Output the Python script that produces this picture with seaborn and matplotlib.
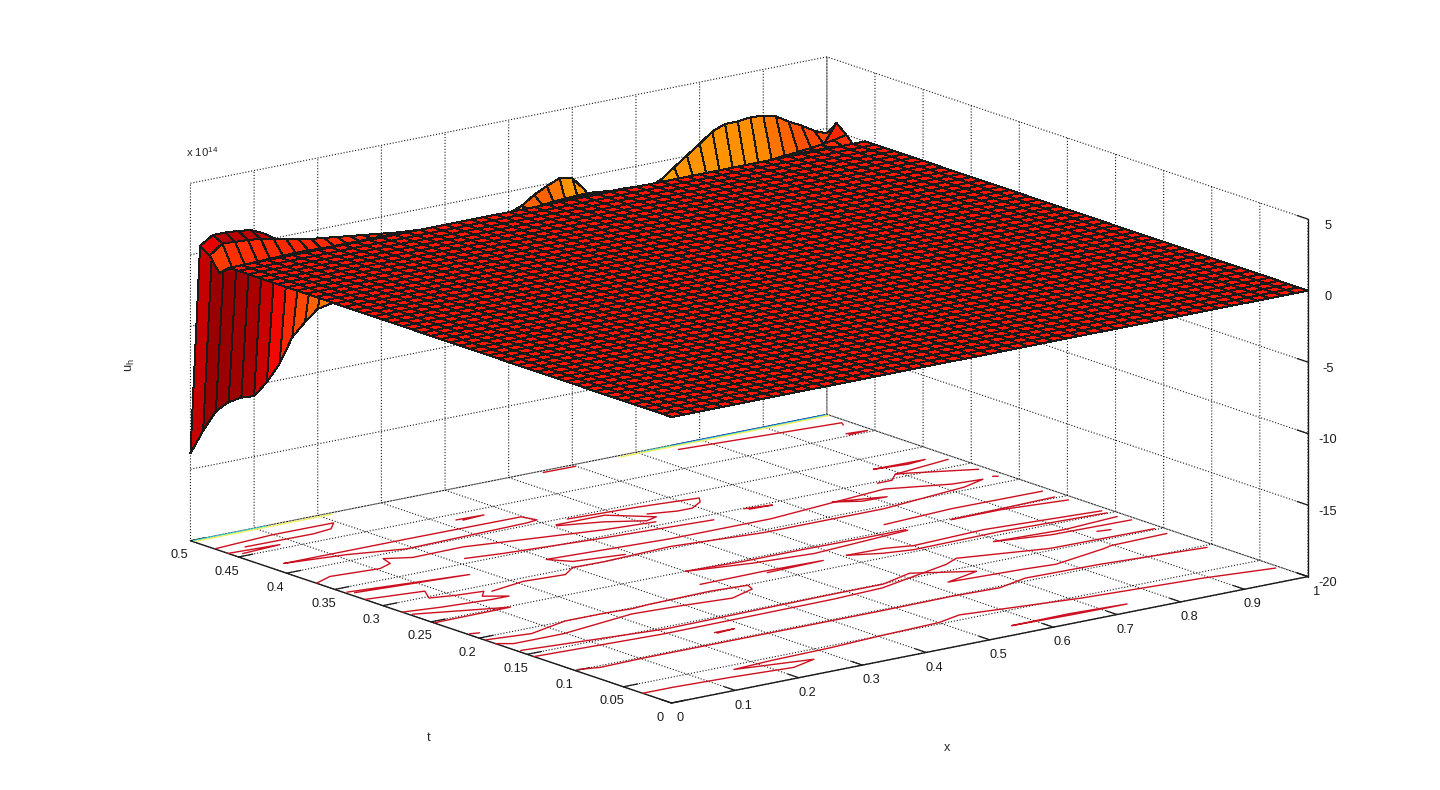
import numpy as np
import matplotlib
matplotlib.use("Agg")
import matplotlib.pyplot as plt
from matplotlib.colors import Normalize
from mpl_toolkits.mplot3d import proj3d
import seaborn as sns

# ---------- data ----------
x_grid = np.linspace(0, 1, 51)
t_grid = np.linspace(0, 0.5, 51)
x_ticks = [0, .1, .2, .3, .4, .5, .6, .7, .8, .9, 1]
x_labels = ['0', '0.1', '0.2', '0.3', '0.4', '0.5', '0.6', '0.7', '0.8', '0.9', '1']
t_ticks = [0, .05, .1, .15, .2, .25, .3, .35, .4, .45, .5]
t_labels = ['0', '0.05', '0.1', '0.15', '0.2', '0.25', '0.3', '0.35', '0.4', '0.45', '0.5']
z_ticks = [-20, -15, -10, -5, 0, 5]
z_labels = ['-20', '-15', '-10', '-5', '0', '5']

# surface heights (units of 1e14) in the rows next to t = 0.5; the rest is flat at 0
z_t050 = [-13.9, -12.47, -11.3, -10.83, -10.7, -10.77, -9.97, -8.86, -7.18, -6.3, -5.55, -5.38,
          -5, -4.6, -4.2, -3.8, -3.4, -3, -2.8, -2.6, -2.4, -2.2, -2, -1.9, -1.8, -1.5,
          -1.2, -.58, -.15, .23, .05, -.96, -2.5, -3, -3, -2.5,
          -1.64, -1.26, -.6, .05, .68, 1.37, 1.72, 1.72, 1.83, 1.78, 1.55, 1, .55, .01, -.35]
z_t049 = [.85, 1.43, 1.43, 1.36, 1.25, .83, .26, -.3, -.8, -1.2, -1.6, -1.8,
          -1.8, -1.8, -1.8, -1.8, -1.8, -1.8, -1.8, -1.8, -1.8, -1.8, -1.8, -1.8, -1.8, -1.8,
          -1.2, -1.2, -1.5, -2.1, -2.1, -3.2, -3.5, -3, -2.5, -2.2,
          -2.2, -2.2, -2.1, -2.1, -2.1, -2.1, -2, -2, -1.9, -1.5, -1.3, -.95, -.8, -.71, .6]
z_t048 = [.4, 1.07, 1, .96, .85, .69, .5, .3, .15, .04, -.07, -.18, -.29, -.4, -.51, -.62, -.73,
          -.85, -.85, -.85, -.85, -.85, -.85, -.85, -.85, -.85,
          -.7, -.6, -.55, -.5, -.5, -.6, -.8,
          -.85, -.85, -.85, -.85, -.85, -.85, -.85, -.85, -.85, -.85, -.8,
          -.7, -.62, -.55, -.45, -.35, -.2, 0]
z_t047 = [-.6, -.4, -.38, -.32, -.31, -.26, -.25, -.25, -.3, -.3, -.3, -.3, -.3, -.3, -.3, -.3,
          -.4, -.4, -.4, -.4, -.4, -.4, -.4, -.4, -.4, -.4,
          -.3, -.3, -.3, -.3, -.3, -.3, -.3,
          -.4, -.4, -.4, -.4, -.4, -.4, -.4, -.4, -.4, -.4, -.4,
          -.35, -.3, -.3, -.3, -.3, -.4, -.7]

# floor contour lines, each a list of (x, t)
contour_blue = [[(.756, .4995), (.995, .4995)]]
contour_cyan = [[(.003, .499), (.118, .499)], [(.707, .4985), (.998, .4985)]]
contour_yellow = [[(.003, .497), (.218, .497)], [(.67, .497), (.998, .497)]]
contour_red = [
    [(.75, .489), (.99, .478), (.985, .473)],
    [(.002, .475), (.099, .48), (.194, .4795), (.174, .469), (.142, .466), (.036, .467)],
    [(0, .461), (.077, .458), (.014, .455)],
    [(.3235, .438), (.366, .437), (.33, .435)],
    [(.026, .42), (.219, .42), (.397, .419), (.404, .407), (.385, .405), (.19, .401), (.113, .413), (.026, .42)],
    [(0, .369), (.033, .377), (.106, .373), (.131, .379), (.138, .391), (.171, .382), (.252, .383),
     (.3325, .374), (.441, .362), (.516, .3575)],
    [(.004, .34), (.177, .327), (.01, .336)],
    [(.001, .319), (.084, .312), (.068, .297), (.102, .292), (.142, .289), (.126, .28), (.153, .27),
     (.127, .27), (.054, .2745), (0, .28)],
    [(.15, .286), (.21, .293), (.2716, .29), (.30, .301), (.347, .30), (.4575, .304), (.59, .295),
     (.78, .295), (.857, .301), (.923, .306), (.964, .314), (.919, .3166), (.838, .333), (.6386, .319),
     (.481, .319), (.297, .3267), (.3175, .3125), (.39, .306)],
    [(.219, .36), (.2715, .355), (.4017, .347), (.579, .339)],
    [(.4365, .397), (.541, .393), (.6285, .387), (.618, .379), (.592, .37), (.5687, .37), (.53, .376)],
    [(.408, .39), (.4846, .39), (.531, .367), (.51, .363), (.464, .3775), (.406, .388)],
    [(.641, .349), (.68, .345), (.645, .346)],
    [(.40, .25), (.486, .247), (.58, .247), (.669, .246), (.74, .246)],
    [(.74, .244), (.58, .235), (.49, .24), (.40, .25)],
    [(.376, .219), (.477, .22), (.568, .218), (.477, .216)],
    [(.002, .194), (.065, .1885), (.135, .2), (.198, .2), (.237, .198), (.268, .2), (.365, .202), (.421, .199),
     (.414, .19), (.368, .18), (.294, .185), (.222, .188), (.097, .176), (.018, .176), (0, .183)],
    [(.005, .16), (.211, .146), (.479, .149), (.5576, .149), (.616, .16), (.688, .138), (.628, .128),
     (.74, .124), (.787, .121), (.881, .133), (.896, .136), (.987, .138)],
    [(0, .143), (.196, .137), (.464, .139), (.546, .142), (.678, .163), (.706, .171), (.828, .154), (.989, .152)],
    [(.006, .101), (.034, .0965), (.10, .098), (.242, .098), (.40, .098), (.479, .098), (.592, .099),
     (.662, .097), (.716, .106), (.831, .104), (.986, .0955)],
    [(.249, .12), (.28, .12), (.25, .118)],
    [(0, .03), (.048, .03), (.134, .027), (.2256, .022), (.269, .03), (.16, .041), (.223, .044), (.321, .046),
     (.405, .05), (.50, .053), (.543, .06), (.715, .0455), (.892, .0375), (.993, .029)],
    [(.5635, .019), (.655, .02), (.741, .0166), (.655, .017), (.5635, .019)],
    [(.003, .212), (.016, .21)],
    [(.004, .272), (.1216, .248), (.001, .247)],
    [(.885, .3755), (.934, .375), (.965, .3746), (.934, .372), (.885, .3755)],
    [(.892, .3575), (.988, .366)],
    [(.848, .347), (.871, .347), (.892, .3575), (.904, .3556), (.989, .335)],
    [(.9823, .316), (.988, .314)],
    [(.733, .264), (.846, .269), (.988, .268)],
    [(.814, .248), (.893, .248), (.988, .241)],
    [(.814, .248), (.983, .252)],
    [(.606, .219), (.663, .218), (.701, .212), (.818, .216), (.989, .207)],
    [(.606, .219), (.648, .209), (.689, .204), (.829, .206), (.988, .201)],
    [(.792, .189), (.897, .185), (.9875, .19)],
    [(.792, .189), (.869, .18), (.992, .178)],
    [(.924, .169), (.943, .167)],
    [(.962, .455), (.993, .453), (.962, .452)],
    [(.549, .4965), (.599, .496)],
    [(.7486, .328), (.818, .317), (.78, .318), (.7486, .328)],
]

# ---------- style ----------
sns.set_theme(style='white', rc={
    'grid.color': 'k', 'grid.linestyle': ':', 'grid.linewidth': 0.8,
    'axes.unicode_minus': False,
})
plt.rcParams['font.family'] = ['Liberation Sans', 'DejaVu Sans']
jet = matplotlib.colormaps['jet']
TICK_FS = 9.2

fig = plt.figure(figsize=(14.4, 7.9), dpi=100, facecolor='white')
S = 1500.0
ax = fig.add_axes([0, 0, S / 1440, S / 790], projection='3d', proj_type='ortho')
ax.set_facecolor('none')
ax.patch.set_alpha(0)
ax.view_init(elev=15, azim=-127.5)
ax.set_xlim(0, 1)
ax.set_ylim(0, .5)
ax.set_zlim(-20, 5)
ASPECT = (802, 790, 370)
zoom = 1.0
ax.set_box_aspect(ASPECT, zoom=zoom)

# surface
X, T = np.meshgrid(x_grid, t_grid)
Z = np.zeros_like(X)
Z[47] = z_t047
Z[48] = z_t048
Z[49] = z_t049
Z[50] = z_t050
norm = Normalize(vmin=min(z_t050), vmax=max(z_t050))
ax.plot_surface(X, T, Z, rstride=1, cstride=1, facecolors=jet(norm(Z)), shade=False,
                edgecolor='k', linewidth=0.7, antialiased=False)

# floor contours
for lines, col in [(contour_red, '#cc1020'), (contour_blue, '#0030c0'),
                   (contour_cyan, '#30d0e0'), (contour_yellow, '#f0f060')]:
    for line in lines:
        xs, ts = zip(*line)
        ax.plot(xs, ts, zs=-20, zdir='z', color=col, lw=1.0)

# axes cosmetics
ax.grid(True)
for axis in (ax.xaxis, ax.yaxis, ax.zaxis):
    axis.pane.set_fill(False)
    axis.pane.set_edgecolor('none')
    axis.line.set_color('k')
    axis.line.set_linewidth(1.0)
    axis._axinfo['tick']['inward_factor'] = 0.0
    axis._axinfo['tick']['outward_factor'] = 0.28
    axis._axinfo['tick']['linewidth'] = {True: 0.9, False: 0.9}
ax.set_xticks(x_ticks, x_labels, fontsize=TICK_FS, color='k')
ax.set_yticks(t_ticks, t_labels, fontsize=TICK_FS, color='k')
ax.set_zticks(z_ticks, z_labels, fontsize=TICK_FS, color='k')
ax.tick_params(axis='x', pad=2, colors='k')
ax.tick_params(axis='y', pad=2, colors='k')
ax.tick_params(axis='z', pad=2, colors='k')
ax.zaxis.set_ticks_position('lower')

# fit the box to the figure
def px(x, y, z):
    a, b, _ = proj3d.proj_transform(x, y, z, ax.get_proj())
    return ax.transData.transform((a, b))

for _ in range(3):
    fig.canvas.draw()
    span = px(1, 0, -20)[0] - px(0, .5, -20)[0]
    zoom *= 1117.5 / span
    ax.set_box_aspect(ASPECT, zoom=zoom)
fig.canvas.draw()
p = px(0, 0, -20)
pos = ax.get_position()
ax.set_position([pos.x0 + (671.5 - p[0]) / 1440, pos.y0 + ((790 - 703) - p[1]) / 790, pos.width, pos.height])

# texts
fig.text(947 / 1440, 1 - 748 / 790, 'x', fontsize=TICK_FS, ha='center', va='center')
fig.text(429 / 1440, 1 - 738 / 790, 't', fontsize=TICK_FS, ha='center', va='center')
fig.text(130 / 1440, 1 - 365 / 790, r'u$_{\mathregular{h}}$', fontsize=TICK_FS, ha='center', va='center', rotation=90)
fig.text(186 / 1440, 1 - 152 / 790, r'x 10$^{\mathregular{14}}$', fontsize=TICK_FS - 1, ha='left', va='center')

fig.savefig('out.png', dpi=100)
